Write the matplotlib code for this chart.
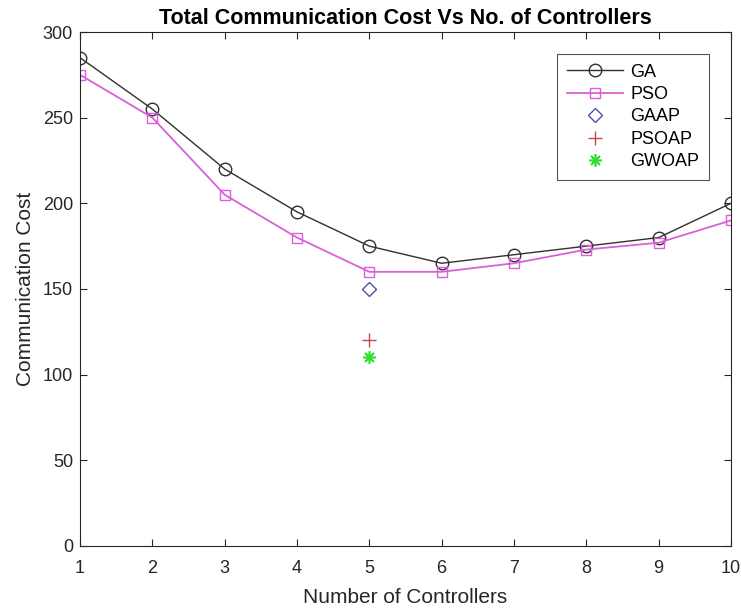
import matplotlib
matplotlib.use('Agg')
import matplotlib.pyplot as plt

# donnees
controllers = [1, 2, 3, 4, 5, 6, 7, 8, 9, 10]
ga = [285, 255, 220, 195, 175, 165, 170, 175, 180, 200]
pso = [275, 250, 205, 180, 160, 160, 165, 173, 177, 190]
gaap_x, gaap_y = [5], [150]
psoap_x, psoap_y = [5], [120]
gwoap_x, gwoap_y = [5], [110]


def main():
    plt.rcParams['font.family'] = ['Liberation Sans', 'DejaVu Sans']
    fig = plt.figure(figsize=(7.41, 6.12), dpi=100)
    ax = fig.add_axes([0.108, 0.108, 0.8785, 0.8397])

    ax.plot(controllers, ga, color='#303030', linewidth=1.0, marker='o',
            markersize=9, markerfacecolor='none', markeredgewidth=1.0, label='GA')
    ax.plot(controllers, pso, color='#d860d8', linewidth=1.3, marker='s',
            markersize=6.5, markerfacecolor='none', markeredgewidth=1.0, label='PSO')
    ax.plot(gaap_x, gaap_y, linestyle='none', marker='D', markersize=7.5,
            markerfacecolor='none', markeredgecolor='#5050a8',
            markeredgewidth=1.0, label='GAAP')
    ax.plot(psoap_x, psoap_y, linestyle='none', marker='+', markersize=10,
            markeredgecolor='#c04848', markeredgewidth=1.0, label='PSOAP')
    # asterisque a la matlab (4 traits)
    ax.plot(gwoap_x, gwoap_y, linestyle='none', marker=(8, 2, 0), markersize=9,
            markeredgecolor='#30e030', markeredgewidth=1.2, label='GWOAP')

    ax.set_xlim(1, 10)
    ax.set_ylim(0, 300)
    ax.set_xticks(controllers)
    ax.set_yticks(range(0, 301, 50))
    ax.tick_params(direction='in', length=5, labelsize=13, top=True, right=True,
                   colors='#262626')
    ax.tick_params(axis='x', pad=10)
    ax.tick_params(axis='y', pad=5)
    for s in ax.spines.values():
        s.set_color('#262626')
        s.set_linewidth(0.8)

    ax.set_title('Total Communication Cost Vs No. of Controllers',
                 fontsize=15.5, fontweight='bold', pad=6)
    ax.set_xlabel('Number of Controllers', fontsize=15, color='#262626',
                  labelpad=8)
    ax.set_ylabel('Communication Cost', fontsize=15, color='#262626',
                  labelpad=6)

    leg = ax.legend(loc='upper right', fontsize=13, fancybox=False,
                    edgecolor='#555555', framealpha=1, handlelength=3.1,
                    handletextpad=0.4, borderaxespad=1.2, labelspacing=0.3,
                    borderpad=0.55)
    leg.get_frame().set_linewidth(0.8)

    plt.savefig('out.png', dpi=100)


if __name__ == '__main__':
    main()
